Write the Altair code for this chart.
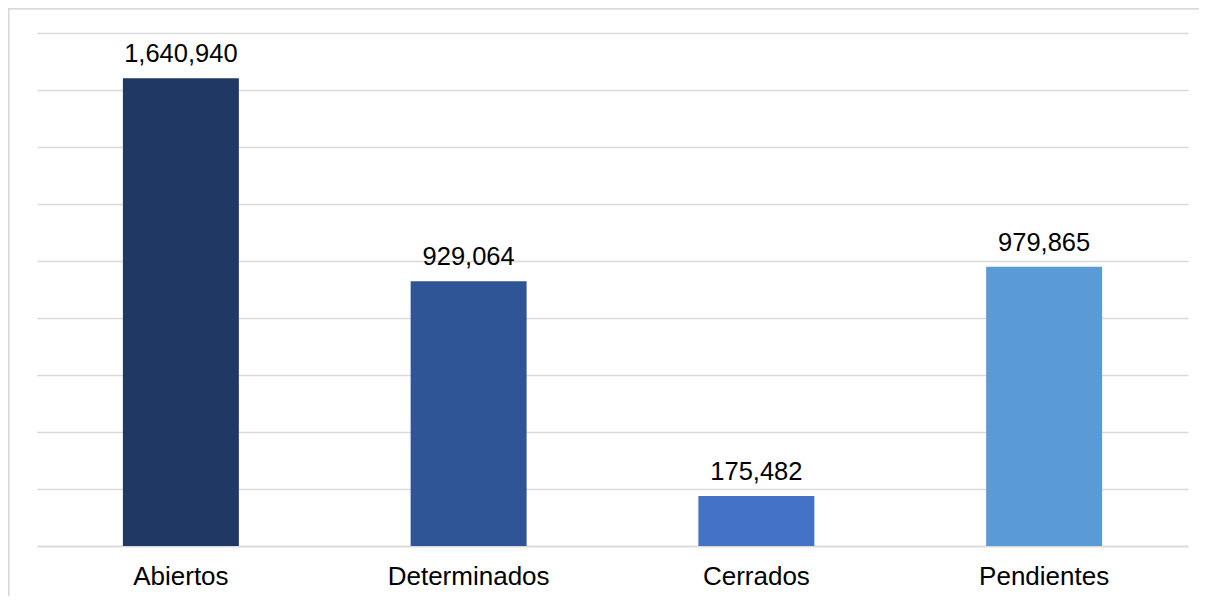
import altair as alt
import pandas as pd

categories = ["Abiertos", "Determinados", "Cerrados", "Pendientes"]
values = [1640940, 929064, 175482, 979865]
labels = ["1,640,940", "929,064", "175,482", "979,865"]
colors = ["#203864", "#2F5597", "#4472C4", "#5B9BD5"]

df = pd.DataFrame({"cat": categories, "val": values, "lab": labels})

W, H = 1151, 513

x = alt.X("cat:N", sort=categories,
          scale=alt.Scale(paddingInner=0.597, paddingOuter=0.2985),
          axis=alt.Axis(title=None, labelAngle=0, ticks=False, domain=True,
                        domainColor="#d9d9d9", domainWidth=1.5,
                        labelFont="Liberation Sans", labelFontSize=26,
                        labelColor="#000000", labelBaseline="alphabetic",
                        labelPadding=38.5, grid=False))
y = alt.Y("val:Q", scale=alt.Scale(domain=[0, 1800000], nice=False),
          axis=alt.Axis(title=None, labels=False, ticks=False, domain=False,
                        values=list(range(0, 1800001, 200000)),
                        grid=True, gridColor="#d9d9d9", gridWidth=1.5))

bars = alt.Chart(df).mark_bar().encode(
    x=x, y=y,
    color=alt.Color("cat:N", scale=alt.Scale(domain=categories, range=colors), legend=None),
)

text = alt.Chart(df).mark_text(
    font="Liberation Sans", fontSize=25.5, color="#000000",
    baseline="alphabetic", dy=-16,
).encode(x=alt.X("cat:N", sort=categories), y="val:Q", text="lab:N")

border = alt.Chart(df).mark_rect(fill=None, stroke="#d9d9d9", strokeWidth=1.5).encode(
    x=alt.value(-28.5), x2=alt.value(W + 60),
    y=alt.value(-24.5), y2=alt.value(H + 100),
)

chart = alt.layer(border, bars, text).properties(
    width=W, height=H,
    autosize="none",
    padding={"left": 29, "top": 25, "right": 11, "bottom": 50},
).configure_view(stroke=None)

chart.save("out.html", embed_options={"renderer": "svg", "actions": False})
